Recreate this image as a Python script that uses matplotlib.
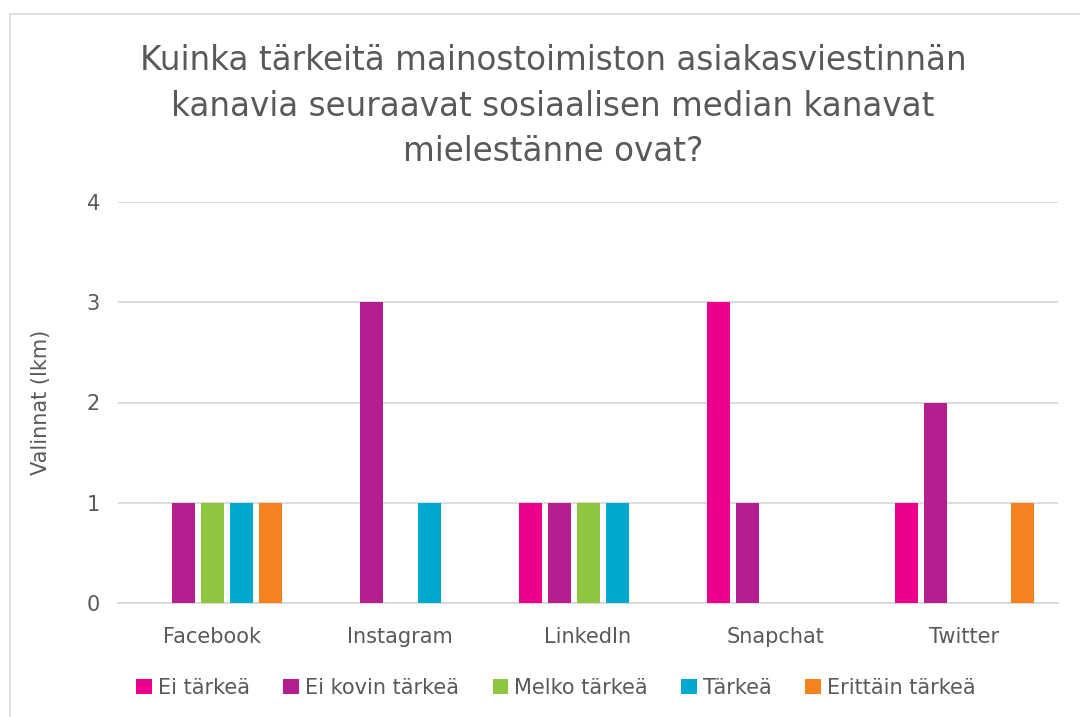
import numpy as np
import matplotlib.pyplot as plt
from matplotlib.patches import Rectangle

categories = ["Facebook", "Instagram", "LinkedIn", "Snapchat", "Twitter"]
series_names = ["Ei tärkeä", "Ei kovin tärkeä", "Melko tärkeä", "Tärkeä", "Erittäin tärkeä"]
ei_tarkea = [0, 0, 1, 3, 1]
ei_kovin_tarkea = [1, 3, 1, 1, 2]
melko_tarkea = [1, 0, 1, 0, 0]
tarkea = [1, 1, 1, 0, 0]
erittain_tarkea = [1, 0, 0, 0, 1]
colors = ["#EC008C", "#B41E8E", "#8DC63F", "#00A9CE", "#F58220"]

title = "Kuinka tärkeitä mainostoimiston asiakasviestinnän\nkanavia seuraavat sosiaalisen median kanavat\nmielestänne ovat?"

text_color = "#595959"
grid_color = "#d9d9d9"

W, H = 1080, 717
fig = plt.figure(figsize=(W / 100, H / 100), dpi=100)

# outer chart frame
fig.patches.append(Rectangle((10 / W, -0.01), 1.02, (H - 14) / H + 0.01,
                             transform=fig.transFigure, fill=False,
                             edgecolor=grid_color, linewidth=1.2))

ax = fig.add_axes([118 / W, (H - 603) / H, 940 / W, 401 / H])

values = [ei_tarkea, ei_kovin_tarkea, melko_tarkea, tarkea, erittain_tarkea]
x = np.arange(len(categories))
step = 29 / 188
width = 23 / 188
for i, (vals, name, c) in enumerate(zip(values, series_names, colors)):
    ax.bar(x + (i - 2) * step, vals, width=width, color=c, label=name, zorder=3)

ax.set_xlim(-0.5, len(categories) - 0.5)
ax.set_ylim(0, 4)
ax.set_yticks([0, 1, 2, 3, 4])
ax.set_xticks(x)
ax.set_xticklabels(categories)
ax.yaxis.grid(True, color=grid_color, linewidth=1.3, zorder=0)
ax.set_axisbelow(True)
for s in ["top", "right", "left"]:
    ax.spines[s].set_visible(False)
ax.spines["bottom"].set_color(grid_color)
ax.spines["bottom"].set_linewidth(1.3)
ax.tick_params(length=0, colors=text_color, labelsize=15)
ax.tick_params(axis="y", pad=13)
ax.tick_params(axis="x", pad=17)
ax.set_ylabel("Valinnat (lkm)", fontsize=15, color=text_color, labelpad=26)

fig.text(553 / W, 1 - 106 / H, title, ha="center", va="center",
         fontsize=23.5, color=text_color, linespacing=1.47)

fig.legend(loc="center", bbox_to_anchor=(556 / W, 1 - 688 / H), ncol=5,
           frameon=False, fontsize=15, labelcolor=text_color,
           handlelength=0.75, handleheight=0.75, handletextpad=0.3,
           columnspacing=1.6)

fig.savefig("out.png", dpi=100)
